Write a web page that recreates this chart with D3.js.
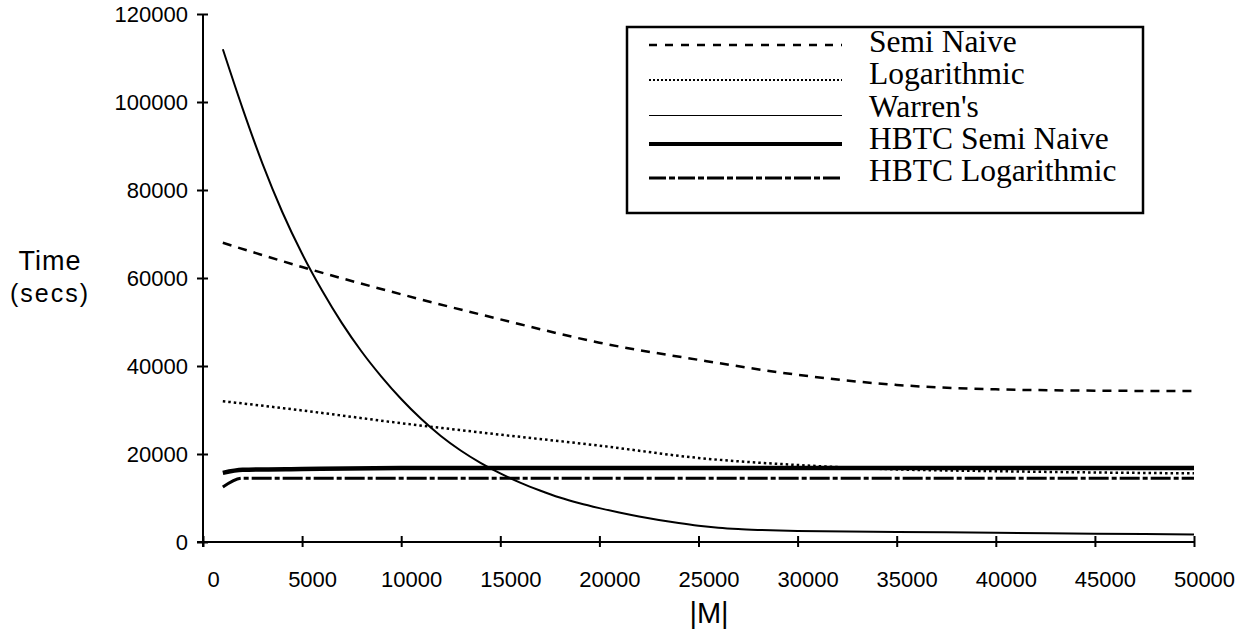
<!DOCTYPE html>
<head>
  <meta charset="utf-8">
  <script src="https://d3js.org/d3.v7.min.js"></script>
  <style>
    body { margin: 0; background: #fff; }
    svg { display: block; }
    .tick text { font-family: "Liberation Sans", Arial, sans-serif; font-size: 22px; fill: #000; }
  </style>
</head>

<body>
  <script type='text/javascript'>

    // |M| values for each series
    var sizes = [1000, 5000, 10000, 15000, 20000, 25000, 30000, 35000, 40000, 45000, 50000];
    var semiNaive = [68000, 62500, 56300, 50600, 45300, 41400, 38000, 35700, 34700, 34400, 34300];
    var logarithmic = [32000, 29900, 27000, 24400, 21900, 19100, 17500, 16500, 16100, 15800, 15600];

    var warrenSizes = [1000, 2000, 3000, 4000, 5000, 6000, 7000, 8000, 9000, 10000, 11000, 12000,
                       13000, 14000, 15000, 16000, 17000, 18000, 19000, 20000, 21000, 22000, 23000,
                       24000, 25000, 26000, 27000, 28000, 30000, 35000, 40000, 45000, 50000];
    var warrens = [112000, 98500, 86000, 75000, 65500, 57200, 49800, 43300, 37600, 32500, 28000, 24100,
                   20800, 18000, 15600, 13500, 11700, 10100, 8800, 7700, 6700, 5800, 5000,
                   4300, 3700, 3250, 2950, 2750, 2500, 2300, 2100, 1900, 1700];

    var hbtcSizes = [1000, 2000, 5000, 10000, 20000, 30000, 40000, 50000];
    var hbtcSemiNaive = [15700, 16400, 16600, 16800, 16800, 16800, 16800, 16800];
    var hbtcLogarithmic = [12500, 14500, 14500, 14500, 14500, 14500, 14500, 14500];

    var xTicks = [0, 5000, 10000, 15000, 20000, 25000, 30000, 35000, 40000, 45000, 50000];
    var yTicks = [0, 20000, 40000, 60000, 80000, 100000, 120000];

    var series = [
      { name: "Semi Naive", xs: sizes, ys: semiNaive, width: 2.5, dash: "9,7", legWidth: 2.5, legDash: "8,8" },
      { name: "Logarithmic", xs: sizes, ys: logarithmic, width: 2.5, dash: "2.5,3", legWidth: 2, legDash: "2,2" },
      { name: "Warren's", xs: warrenSizes, ys: warrens, width: 2, dash: null, legWidth: 1, legDash: null },
      { name: "HBTC Semi Naive", xs: hbtcSizes, ys: hbtcSemiNaive, width: 4.5, dash: null, legWidth: 4, legDash: null },
      { name: "HBTC Logarithmic", xs: hbtcSizes, ys: hbtcLogarithmic, width: 3, dash: "20,3,5,3", legWidth: 3, legDash: "17,3,6,3" }
    ];

    var width = 1246;
    var height = 638;

    var svg = d3.select('body')
      .append('svg')
      .attr("width", width)
      .attr("height", height);

    svg.append("rect").attr("width", width).attr("height", height).attr("fill", "#fff");

    // scales
    var xScale = d3.scaleLinear().domain([0, 50000]).range([203, 1194]);
    var yScale = d3.scaleLinear().domain([0, 120000]).range([542, 14]);

    // y axis
    var yAxis = d3.axisLeft(yScale).tickValues(yTicks).tickFormat(d3.format("d")).tickSize(6);
    var gy = svg.append("g").attr("transform", "translate(203,0)").call(yAxis);
    gy.select(".domain").remove();
    gy.selectAll(".tick line").attr("x1", 5).attr("x2", -6).attr("stroke", "#000").attr("stroke-width", 2);
    gy.selectAll(".tick text").attr("x", -15).attr("dy", "0.36em");
    svg.append("line")
      .attr("x1", 203).attr("x2", 203)
      .attr("y1", yScale(120000)).attr("y2", yScale(0) + 5)
      .attr("stroke", "#000").attr("stroke-width", 2);

    // x axis
    var xAxis = d3.axisBottom(xScale).tickValues(xTicks).tickFormat(d3.format("d")).tickSize(6);
    var gx = svg.append("g").attr("transform", "translate(0,542)").call(xAxis);
    gx.select(".domain").remove();
    gx.selectAll(".tick line").attr("y1", -6).attr("y2", 5).attr("stroke", "#000").attr("stroke-width", 2);
    gx.selectAll(".tick text").attr("x", 10).attr("y", 45).attr("dy", 0);
    svg.append("line")
      .attr("x1", 197).attr("x2", xScale(50000))
      .attr("y1", 542).attr("y2", 542)
      .attr("stroke", "#000").attr("stroke-width", 2);

    // axis titles
    var sans = '"Liberation Sans", Arial, sans-serif';
    svg.append("text").attr("x", 50).attr("y", 270).attr("text-anchor", "middle")
      .style("font-family", sans).style("font-size", "27px").style("letter-spacing", "1px").text("Time");
    svg.append("text").attr("x", 50).attr("y", 302).attr("text-anchor", "middle")
      .style("font-family", sans).style("font-size", "25px").style("letter-spacing", "2px").text("(secs)");
    svg.append("text").attr("x", 709).attr("y", 623).attr("text-anchor", "middle")
      .style("font-family", sans).style("font-size", "29px").text("|M|");

    // lines
    var line = d3.line()
      .x(d => xScale(d[0]))
      .y(d => yScale(d[1]))
      .curve(d3.curveMonotoneX);

    series.forEach(function (s) {
      svg.append("path")
        .datum(s.xs.map((x, i) => [x, s.ys[i]]))
        .attr("d", line)
        .attr("fill", "none")
        .attr("stroke", "#000")
        .attr("stroke-width", s.width)
        .attr("stroke-dasharray", s.dash);
    });

    // legend
    var legend = svg.append("g");
    legend.append("rect")
      .attr("x", 627).attr("y", 27).attr("width", 516).attr("height", 186)
      .attr("fill", "#fff").attr("stroke", "#000").attr("stroke-width", 2.5);

    var legendLineY = [45, 80, 115.5, 144, 178];
    series.forEach(function (s, i) {
      legend.append("line")
        .attr("x1", 649).attr("x2", 842)
        .attr("y1", legendLineY[i]).attr("y2", legendLineY[i])
        .attr("stroke", "#000")
        .attr("stroke-width", s.legWidth)
        .attr("stroke-dasharray", s.legDash);
      legend.append("text")
        .attr("x", 869).attr("y", 52 + i * 32.3)
        .style("font-family", '"Liberation Serif", "Times New Roman", serif')
        .style("font-size", "31.5px")
        .text(s.name);
    });

  </script>
</body>
